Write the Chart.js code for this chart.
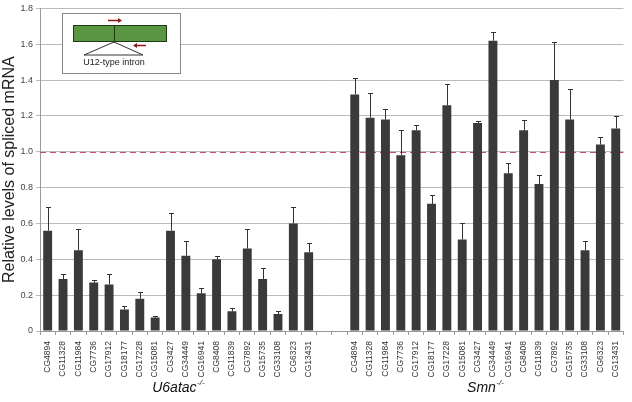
<!DOCTYPE html>
<html>
<head>
<meta charset="utf-8">
<script src="https://cdn.jsdelivr.net/npm/chart.js@4.4.0/dist/chart.umd.min.js"></script>
<style>
  html, body { margin: 0; padding: 0; background: #fff; }
  #wrap { width: 632px; height: 402px; }
</style>
</head>
<body>
<div id="wrap"><canvas id="chart"></canvas></div>
<script>
// =================== DATA ===================
const genes = ['CG4894', 'CG11328', 'CG11984', 'CG7736', 'CG17912', 'CG18177', 'CG17228', 'CG15081', 'CG3427',
  'CG34449', 'CG16941', 'CG8408', 'CG11839', 'CG7892', 'CG15735', 'CG33108', 'CG6323', 'CG13431'];

const u6atacLevels = [0.56, 0.29, 0.45, 0.27, 0.26, 0.12, 0.18, 0.075, 0.56, 0.42, 0.21, 0.40, 0.11, 0.46, 0.29, 0.095, 0.60, 0.44];
const u6atacErrors = [0.13, 0.03, 0.12, 0.015, 0.06, 0.02, 0.04, 0.008, 0.10, 0.08, 0.03, 0.02, 0.02, 0.11, 0.06, 0.015, 0.09, 0.05];

const smnLevels = [1.32, 1.19, 1.18, 0.98, 1.12, 0.71, 1.26, 0.51, 1.16, 1.62, 0.88, 1.12, 0.82, 1.40, 1.18, 0.45, 1.04, 1.13];
const smnErrors = [0.09, 0.14, 0.06, 0.14, 0.03, 0.05, 0.12, 0.09, 0.01, 0.05, 0.06, 0.06, 0.05, 0.21, 0.17, 0.05, 0.04, 0.07];

const groupNames = ['U6atac', 'Smn'];
const groupSup = '-/-';
const referenceLevel = 1.0;
const yMax = 1.8;
const yStep = 0.2;

// two empty slots separate the groups
const labels = genes.concat(['', ''], genes);
const levels = u6atacLevels.concat([null, null], smnLevels);
const errors = u6atacErrors.concat([null, null], smnErrors);

// =================== PLUGINS ===================

// dashed red line at 1.0, under the bars
const refLine = {
  id: 'refLine',
  beforeDatasetsDraw(chart) {
    const { ctx, chartArea, scales } = chart;
    const y = Math.round(scales.y.getPixelForValue(referenceLevel)) + 0.5;
    ctx.save();
    ctx.strokeStyle = '#c4506a';
    ctx.lineWidth = 1;
    ctx.setLineDash([6, 4]);
    ctx.beginPath();
    ctx.moveTo(chartArea.left, y);
    ctx.lineTo(chartArea.right, y);
    ctx.stroke();
    ctx.restore();
  }
};

// upward-only error bars with a small cap
const errorBars = {
  id: 'errorBars',
  afterDatasetsDraw(chart) {
    const { ctx, scales } = chart;
    const meta = chart.getDatasetMeta(0);
    ctx.save();
    ctx.strokeStyle = '#333';
    ctx.lineWidth = 1;
    levels.forEach((v, i) => {
      if (v === null) return;
      const x = Math.round(meta.data[i].x) + 0.5;
      const yBar = scales.y.getPixelForValue(v);
      const yTop = Math.round(scales.y.getPixelForValue(v + errors[i])) + 0.5;
      ctx.beginPath();
      ctx.moveTo(x, yBar);
      ctx.lineTo(x, yTop);
      ctx.moveTo(x - 2.5, yTop);
      ctx.lineTo(x + 2.5, yTop);
      ctx.stroke();
    });
    ctx.restore();
  }
};

// group names under the gene labels, and the intron sketch in the corner
const decorations = {
  id: 'decorations',
  afterDraw(chart) {
    const { ctx, scales } = chart;
    const x = scales.x;
    const centres = [
      (x.getPixelForValue(0) + x.getPixelForValue(17)) / 2,
      (x.getPixelForValue(20) + x.getPixelForValue(37)) / 2
    ];
    ctx.save();
    ctx.fillStyle = '#111';
    groupNames.forEach((name, g) => {
      ctx.font = 'italic 14px "Liberation Sans", Arial, sans-serif';
      const w1 = ctx.measureText(name).width;
      ctx.font = 'italic 8px "Liberation Sans", Arial, sans-serif';
      const w2 = ctx.measureText(groupSup).width;
      const left = centres[g] - (w1 + w2) / 2;
      ctx.font = 'italic 14px "Liberation Sans", Arial, sans-serif';
      ctx.textBaseline = 'alphabetic';
      ctx.fillText(name, left, 392);
      ctx.font = 'italic 8px "Liberation Sans", Arial, sans-serif';
      ctx.fillText(groupSup, left + w1 + 0.5, 385);
    });

    // inset box
    ctx.fillStyle = '#fff';
    ctx.fillRect(62, 13, 118, 60);
    ctx.strokeStyle = '#888';
    ctx.lineWidth = 1;
    ctx.strokeRect(62.5, 13.5, 118, 60);

    // exon bar
    ctx.fillStyle = '#5a9641';
    ctx.fillRect(73, 25, 94, 17);
    ctx.strokeStyle = '#1e3a14';
    ctx.strokeRect(73.5, 25.5, 93, 16);
    ctx.beginPath();
    ctx.moveTo(114.5, 25);
    ctx.lineTo(114.5, 42);
    ctx.stroke();

    // intron wedge
    ctx.strokeStyle = '#333';
    ctx.beginPath();
    ctx.moveTo(114, 42);
    ctx.lineTo(84, 55);
    ctx.lineTo(143, 55);
    ctx.lineTo(114, 42);
    ctx.stroke();

    // primers
    ctx.strokeStyle = '#8b1a1a';
    ctx.fillStyle = '#8b1a1a';
    ctx.lineWidth = 1.5;
    ctx.beginPath();
    ctx.moveTo(108, 20.5);
    ctx.lineTo(119, 20.5);
    ctx.stroke();
    ctx.beginPath();
    ctx.moveTo(122, 20.5);
    ctx.lineTo(118, 18);
    ctx.lineTo(118, 23);
    ctx.closePath();
    ctx.fill();
    ctx.beginPath();
    ctx.moveTo(137, 45.5);
    ctx.lineTo(146, 45.5);
    ctx.stroke();
    ctx.beginPath();
    ctx.moveTo(133, 45.5);
    ctx.lineTo(137, 43);
    ctx.lineTo(137, 48);
    ctx.closePath();
    ctx.fill();

    ctx.fillStyle = '#222';
    ctx.font = '9px "Liberation Sans", Arial, sans-serif';
    ctx.textAlign = 'center';
    ctx.textBaseline = 'middle';
    ctx.fillText('U12-type intron', 114, 63);
    ctx.restore();
  }
};

// =================== CHART ===================
new Chart(document.getElementById('chart'), {
  type: 'bar',
  data: {
    labels: labels,
    datasets: [{
      data: levels,
      backgroundColor: '#3a3a3a',
      borderWidth: 0,
      barPercentage: 0.58,
      categoryPercentage: 1.0
    }]
  },
  options: {
    responsive: true,
    maintainAspectRatio: false,
    animation: false,
    devicePixelRatio: 1,
    layout: { padding: { top: 7, right: 4, left: 0, bottom: 0 } },
    plugins: {
      legend: { display: false },
      tooltip: { enabled: false }
    },
    scales: {
      x: {
        afterFit(scale) { scale.height = 71; },
        grid: { offset: true, drawOnChartArea: false, tickLength: 4, color: '#999' },
        border: { color: '#999' },
        ticks: {
          autoSkip: false,
          minRotation: 90,
          maxRotation: 90,
          padding: 6,
          color: '#333',
          font: { size: 8.5, family: '"Liberation Sans", Arial, sans-serif' }
        }
      },
      y: {
        min: 0,
        max: yMax,
        afterFit(scale) { scale.width = 40; },
        grid: { color: '#bbb', tickLength: 4 },
        border: { color: '#999' },
        ticks: {
          stepSize: yStep,
          padding: 3,
          color: '#444',
          font: { size: 9, family: '"Liberation Sans", Arial, sans-serif' },
          callback: v => (v === 0 ? '0' : v.toFixed(1))
        },
        title: {
          display: true,
          text: 'Relative levels of spliced mRNA',
          color: '#222',
          padding: { top: 0, bottom: 3 },
          font: { size: 16, family: '"Liberation Sans", Arial, sans-serif' }
        }
      }
    }
  },
  plugins: [refLine, errorBars, decorations]
});
</script>
</body>
</html>
